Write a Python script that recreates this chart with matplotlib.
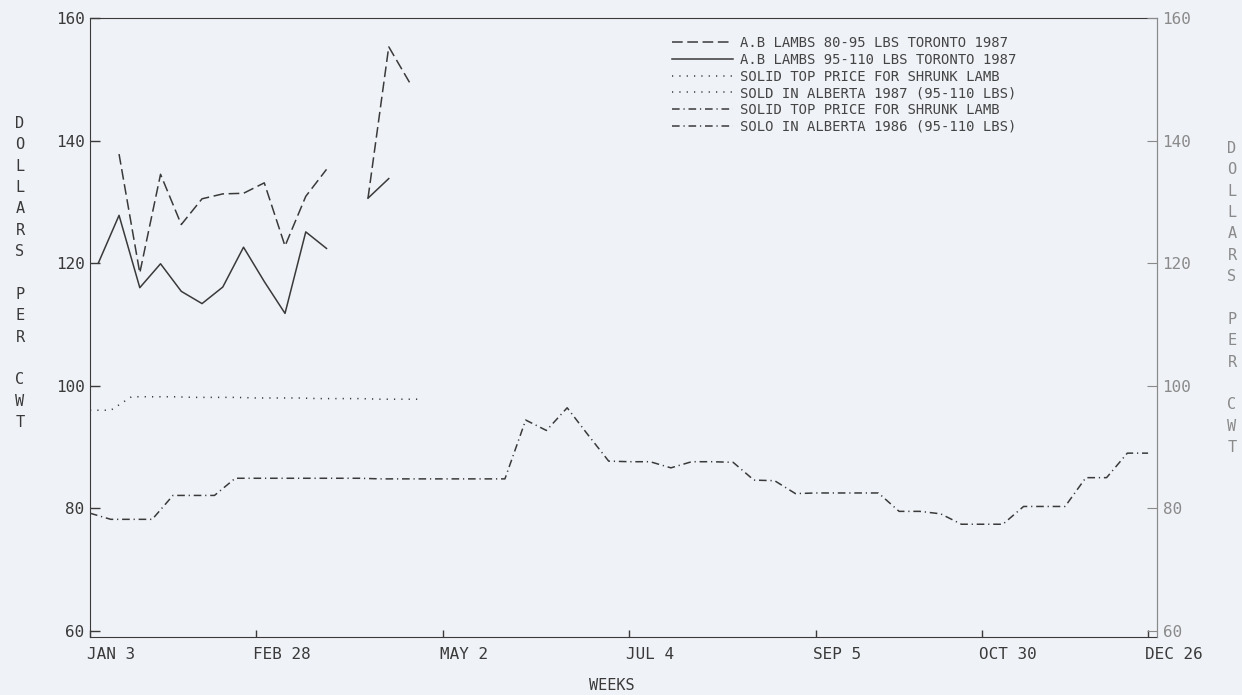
import numpy as np
import matplotlib.pyplot as plt
from matplotlib.lines import Line2D
from matplotlib.transforms import ScaledTranslation

nan = np.nan

# x positions are weeks after Jan 3; Toronto sales sit ~0.4 week later than the Alberta ones
toronto_weeks = [0.4, 1.4, 2.4, 3.4, 4.4, 5.4, 6.4, 7.4, 8.4, 9.4, 10.4, 11.4, 12.4, 13.4, 14.4, 15.4]
toronto_80_95 = [nan, 137.8, 118.4, 134.5, 126.3, 130.5, 131.3, 131.4, 133.1, 122.8, 130.9, 135.3,
                 nan, 130.6, 155.3, 149.5]
toronto_95_110 = [120.0, 127.8, 116.0, 119.9, 115.4, 113.4, 116.1, 122.6, 117.0, 111.8, 125.1, 122.4,
                  nan, 130.6, 133.8, nan]

alberta87_weeks = list(range(17))
alberta87 = [96.0, 96.0, 98.2, 98.2, 98.2, 98.1, 98.1, 98.1, 98.0, 98.0, 98.0, 97.9, 97.9, 97.9,
             97.8, 97.8, 97.8]

alberta86_weeks = list(range(52))
alberta86 = [79.2, 78.2, 78.2, 78.2, 82.1, 82.1, 82.1, 84.9, 84.9, 84.9, 84.9, 84.9, 84.9, 84.9,
             84.8, 84.8, 84.8, 84.8, 84.8, 84.8, 84.8, 94.4, 92.7, 96.4, 92.0, 87.7, 87.6, 87.6,
             86.6, 87.6, 87.6, 87.5, 84.6, 84.5, 82.4, 82.5, 82.5, 82.5, 82.5, 79.5, 79.5, 79.1,
             77.4, 77.4, 77.4, 80.3, 80.3, 80.3, 85.0, 85.0, 89.0, 89.0]

tick_weeks = [0, 8, 17, 26, 35, 43, 51]
tick_labels = ['JAN 3', 'FEB 28', 'MAY 2', 'JUL 4', 'SEP 5', 'OCT 30', 'DEC 26']
y_ticks = [60, 80, 100, 120, 140, 160]

labels = ['A.B LAMBS 80-95 LBS TORONTO 1987',
          'A.B LAMBS 95-110 LBS TORONTO 1987',
          'SOLID TOP PRICE FOR SHRUNK LAMB',
          'SOLD IN ALBERTA 1987 (95-110 LBS)',
          'SOLID TOP PRICE FOR SHRUNK LAMB',
          'SOLO IN ALBERTA 1986 (95-110 LBS)']

ink = '#3a3a3a'
pale = '#8a8a8a'
bg = '#eff2f7'
plt.rcParams['font.family'] = ['DejaVu Sans Mono']

dashed = (0, (7, 3))
dotted = (0, (0.8, 4))
dashdot = (0, (5, 2.5, 0.8, 2.5))

fig = plt.figure(figsize=(12.42, 6.95), dpi=100, facecolor=bg)
ax = fig.add_axes([90 / 1242, 1 - 637 / 695, 1067 / 1242, 619 / 695])
ax.set_facecolor(bg)

ax.plot(toronto_weeks, toronto_80_95, color=ink, lw=1.1, linestyle=dashed)
ax.plot(toronto_weeks, toronto_95_110, color=ink, lw=1.1)
ax.plot(alberta87_weeks, alberta87, color=ink, lw=1.1, linestyle=dotted)
ax.plot(alberta86_weeks, alberta86, color=ink, lw=1.1, linestyle=dashdot)

ax.set_xlim(0, 51.43)
ax.set_ylim(59, 160)
ax.set_xticks(tick_weeks)
ax.set_xticklabels(tick_labels, ha='left')
ax.set_yticks(y_ticks)
ax.tick_params(axis='both', direction='in', colors=ink, labelsize=11.5, width=1)
ax.tick_params(axis='y', length=7, pad=4)
ax.tick_params(axis='x', length=5, pad=7)
shift = ScaledTranslation(-3 / 100, 0, fig.dpi_scale_trans)
for lab in ax.get_xticklabels():
    lab.set_transform(lab.get_transform() + shift)
for side in ['left', 'bottom', 'top']:
    ax.spines[side].set_color(ink)
ax.spines['right'].set_color(pale)

ax2 = ax.twinx()
ax2.set_ylim(ax.get_ylim())
ax2.set_yticks(y_ticks)
ax2.tick_params(axis='y', direction='in', length=7, pad=4, colors=pale, labelsize=11.5)
for side in ['left', 'bottom', 'top']:
    ax2.spines[side].set_visible(False)
ax2.spines['right'].set_color(pale)

# legend: two-line entries repeat the line style
styles = [dashed, 'solid', dotted, dotted, dashdot, dashdot]
handles = [Line2D([], [], color=ink, lw=1.1, linestyle=s) for s in styles]
leg = fig.legend(handles, labels, loc='upper left', bbox_to_anchor=(672 / 1242, 1 - 36 / 695),
                 frameon=False, fontsize=10, handlelength=4.4, handletextpad=0.5,
                 labelspacing=0.2, borderpad=0, borderaxespad=0)
for t in leg.get_texts():
    t.set_color('#444444')

ylab = 'D\nO\nL\nL\nA\nR\nS\n\nP\nE\nR\n\nC\nW\nT'
fig.text(20 / 1242, 1 - 273 / 695, ylab, ha='center', va='center', fontsize=11,
         linespacing=1.53, color=ink)
fig.text(1232 / 1242, 1 - 298 / 695, ylab, ha='center', va='center', fontsize=11,
         linespacing=1.53, color=pale)
fig.text(612 / 1242, 1 - 686 / 695, 'WEEKS', ha='center', va='center', fontsize=11, color=ink)

fig.savefig('out.png', dpi=100, facecolor=bg)
